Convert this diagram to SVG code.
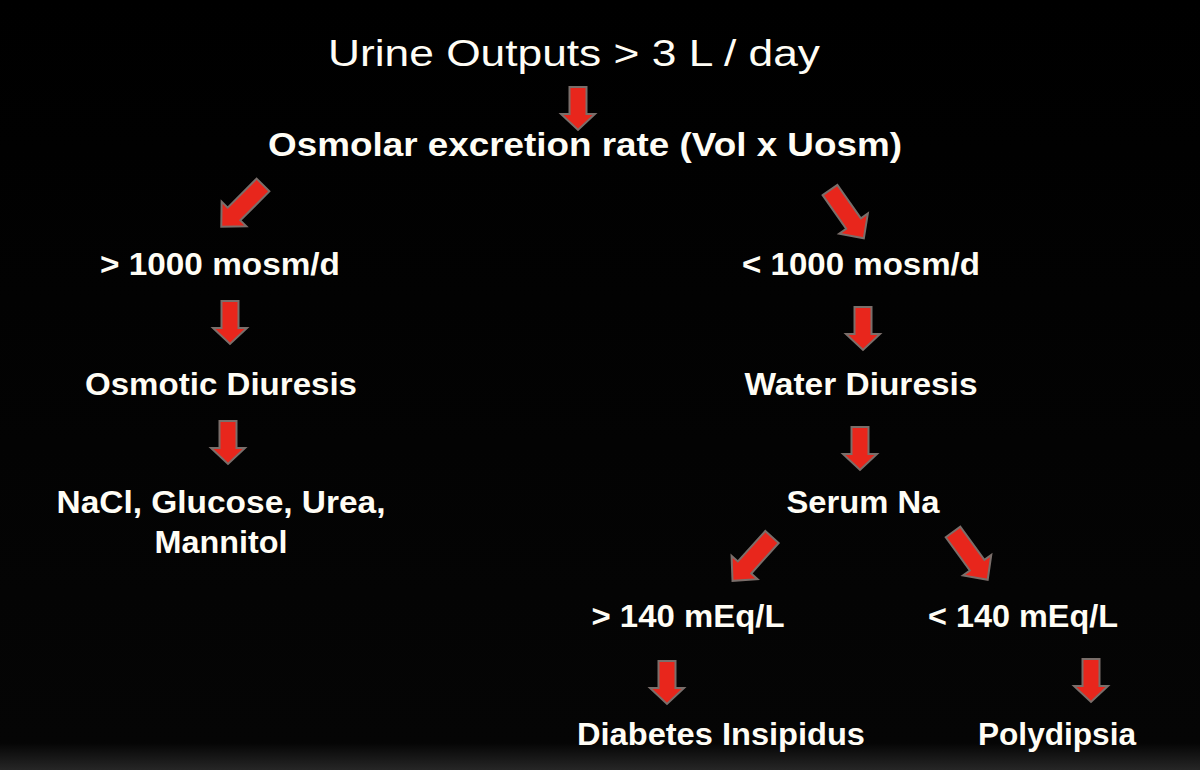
<svg xmlns="http://www.w3.org/2000/svg" xmlns:xlink="http://www.w3.org/1999/xlink" width="1200" height="770" viewBox="0 0 1200 770">
<defs>
<style>
.t{font-family:"Liberation Sans",Arial,sans-serif;fill:#fffdf5;text-anchor:middle}
.b{font-weight:bold;font-size:31px}
.arr{fill:#e8261c;stroke:#7a6e6a;stroke-width:2;stroke-linejoin:miter}
</style>
<linearGradient id="bg" x1="0" y1="0" x2="0" y2="1">
<stop offset="0" stop-color="#000"/>
<stop offset="0.965" stop-color="#050505"/>
<stop offset="1" stop-color="#262626"/>
</linearGradient>
<path id="down" d="M-8.5 0H8.5V27H17L0 43L-17 27H-8.5Z"/>
<path id="diag" d="M-9 0H9V41H17.5L0 59L-17.5 41H-9Z"/>
</defs>
<rect width="1200" height="770" fill="url(#bg)"/>
<g id="connectors" class="arr">
<use xlink:href="#down" transform="translate(578,87)"/>
<use xlink:href="#diag" transform="translate(263,185) rotate(45)"/>
<use xlink:href="#diag" transform="translate(830,190) rotate(-35)"/>
<use xlink:href="#down" transform="translate(230,301)"/>
<use xlink:href="#down" transform="translate(228,421)"/>
<use xlink:href="#down" transform="translate(863,307)"/>
<use xlink:href="#down" transform="translate(860,427)"/>
<use xlink:href="#diag" transform="translate(772,537) rotate(42)"/>
<use xlink:href="#diag" transform="translate(953,532) rotate(-36)"/>
<use xlink:href="#down" transform="translate(667,661)"/>
<use xlink:href="#down" transform="translate(1091,659)"/>
</g>
<g id="n-urine"><text class="t" x="574" y="66" font-size="37" textLength="492" lengthAdjust="spacingAndGlyphs">Urine  Outputs  &gt;  3 L / day</text></g>
<g id="n-osmolar"><text class="t" x="585" y="156" font-weight="bold" font-size="33" textLength="634" lengthAdjust="spacingAndGlyphs">Osmolar  excretion rate (Vol x Uosm)</text></g>
<g id="n-gt1000"><text class="t b" x="220" y="275" textLength="240" lengthAdjust="spacingAndGlyphs">&gt; 1000 mosm/d</text></g>
<g id="n-osmotic"><text class="t b" x="221" y="395" textLength="272" lengthAdjust="spacingAndGlyphs">Osmotic Diuresis</text></g>
<g id="n-nacl"><text class="t b" x="221" y="513" textLength="329" lengthAdjust="spacingAndGlyphs">NaCl, Glucose, Urea,</text><text class="t b" x="221" y="553" textLength="133" lengthAdjust="spacingAndGlyphs">Mannitol</text></g>
<g id="n-lt1000"><text class="t b" x="861" y="275" textLength="238" lengthAdjust="spacingAndGlyphs">&lt; 1000 mosm/d</text></g>
<g id="n-water"><text class="t b" x="861" y="395" textLength="233" lengthAdjust="spacingAndGlyphs">Water Diuresis</text></g>
<g id="n-serum"><text class="t b" x="863" y="513" textLength="153" lengthAdjust="spacingAndGlyphs">Serum Na</text></g>
<g id="n-gt140"><text class="t b" x="688" y="627" textLength="193" lengthAdjust="spacingAndGlyphs">&gt; 140 mEq/L</text></g>
<g id="n-lt140"><text class="t b" x="1023" y="627" textLength="190" lengthAdjust="spacingAndGlyphs">&lt; 140 mEq/L</text></g>
<g id="n-di"><text class="t b" x="721" y="745" textLength="288" lengthAdjust="spacingAndGlyphs">Diabetes Insipidus</text></g>
<g id="n-poly"><text class="t b" x="1057" y="745" textLength="158" lengthAdjust="spacingAndGlyphs">Polydipsia</text></g>
</svg>
